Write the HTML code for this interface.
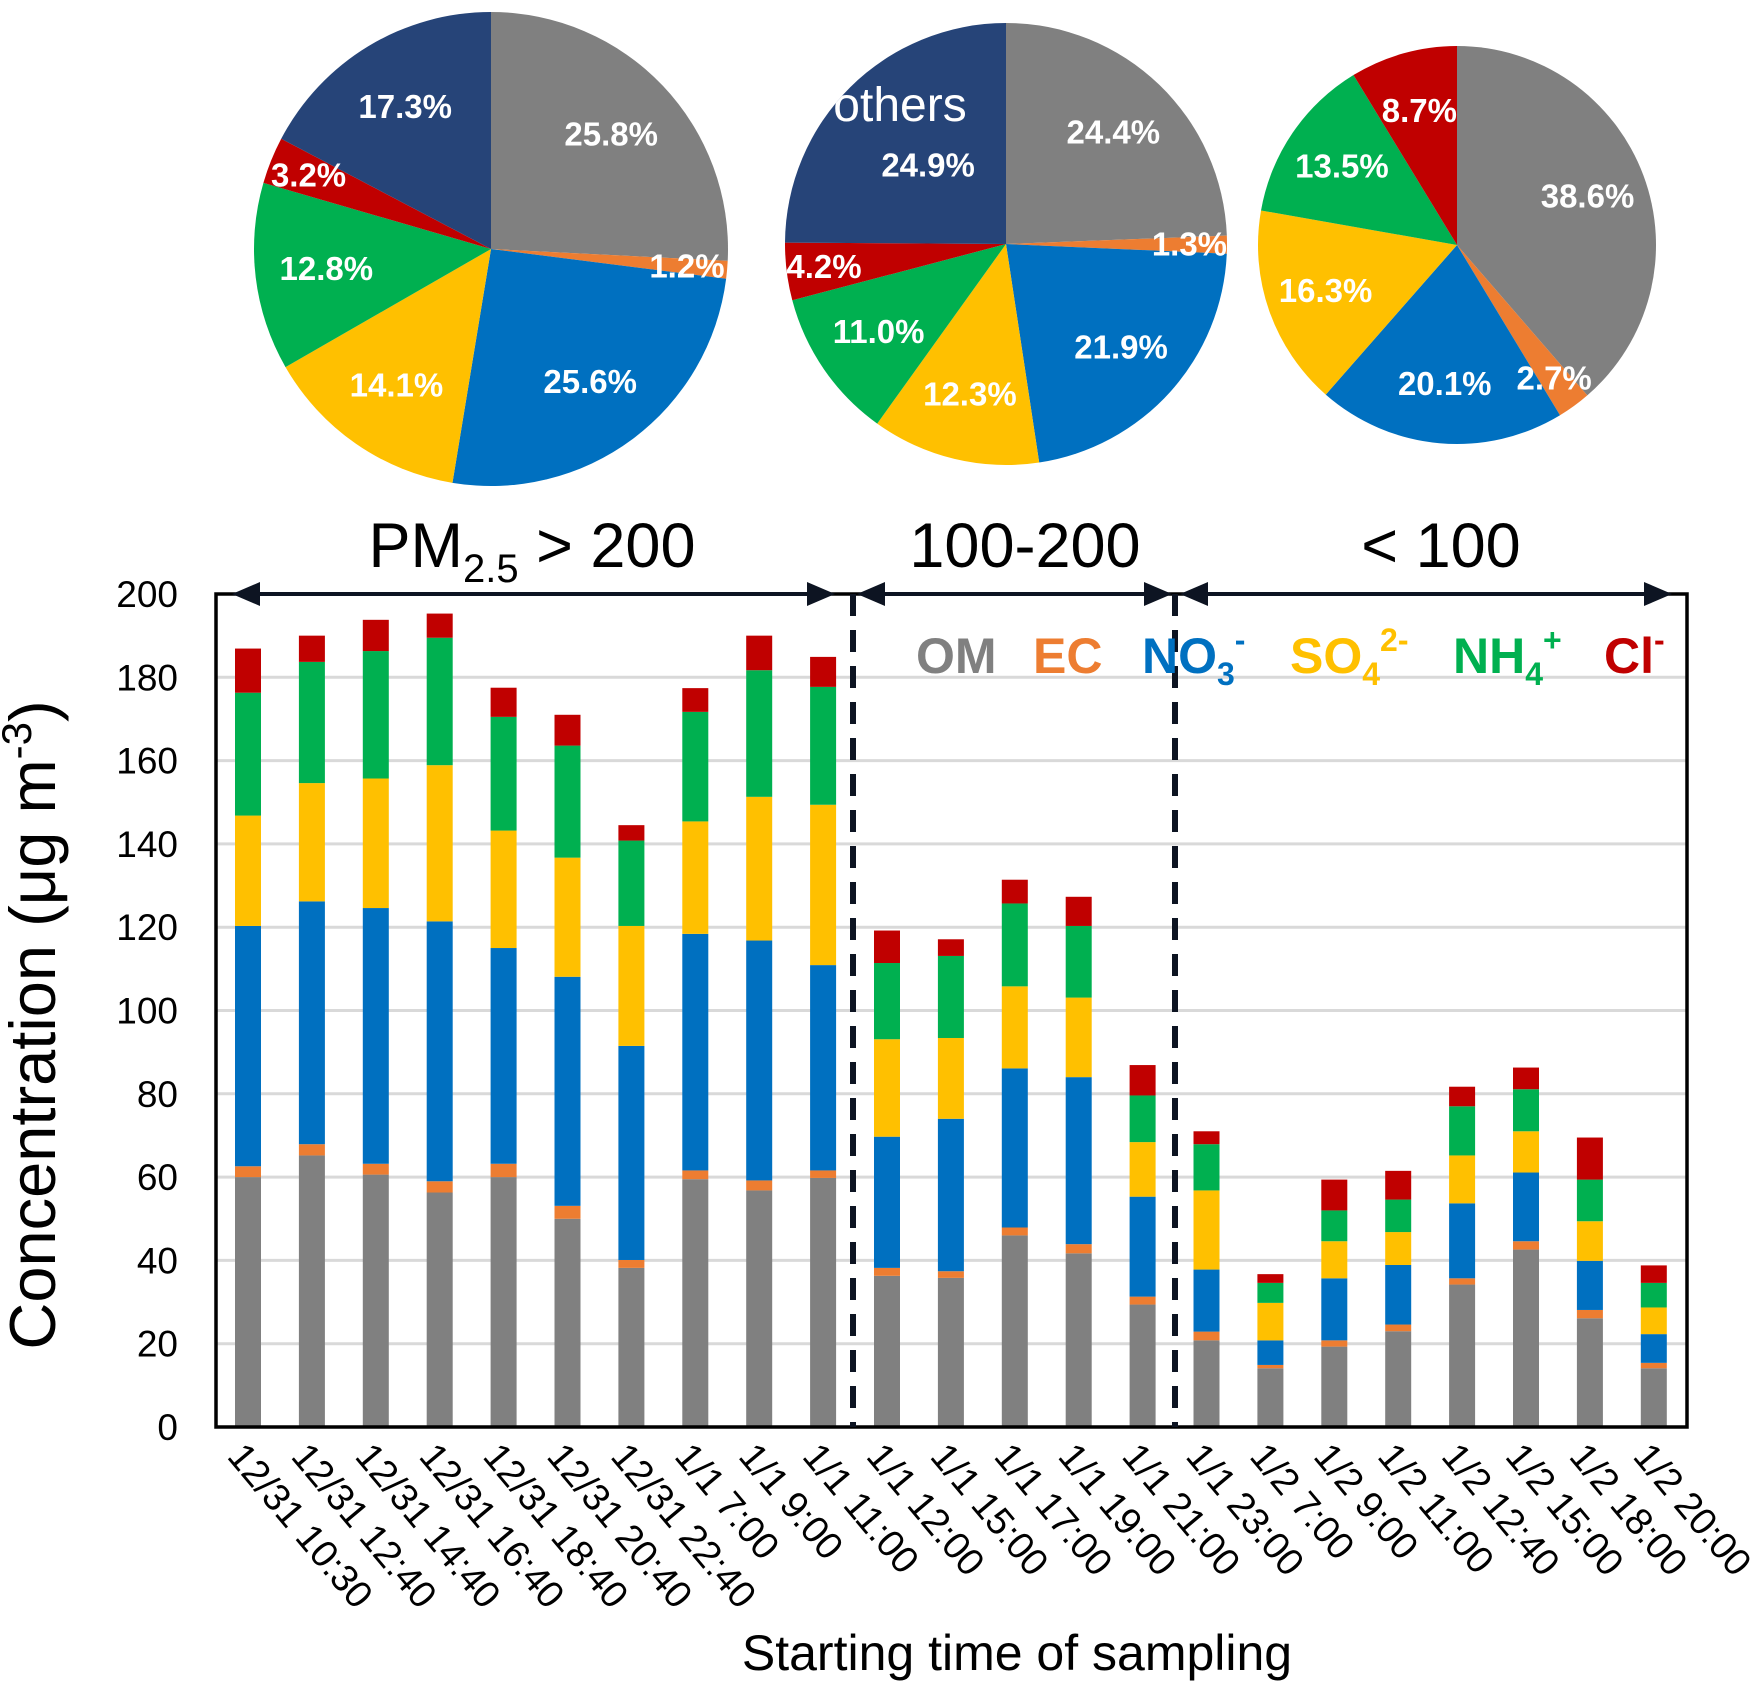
<!DOCTYPE html>
<html><head><meta charset="utf-8"><style>
html,body{margin:0;padding:0;background:#fff;}
svg{display:block;font-family:"Liberation Sans",Arial,sans-serif;}
</style></head><body>
<svg id="chart" width="1756" height="1684" viewBox="0 0 1756 1684">
<g id="pies"></g>
<g id="grid"></g>
<g id="bars"></g>
<g id="axes"></g>
<g id="legend" font-weight="bold" font-size="50">
<text x="916" y="673" fill="#808080">OM</text>
<text x="1033" y="673" fill="#ed7d31">EC</text>
<text x="1142" y="673" fill="#0070c0">NO<tspan font-size="32" dy="12">3</tspan><tspan font-size="32" dy="-34">-</tspan></text>
<text x="1290" y="673" fill="#ffc000">SO<tspan font-size="32" dy="12">4</tspan><tspan font-size="32" dy="-34">2-</tspan></text>
<text x="1453" y="673" fill="#00b050">NH<tspan font-size="32" dy="12">4</tspan><tspan font-size="32" dy="-34">+</tspan></text>
<text x="1604" y="673" fill="#c00000">Cl<tspan font-size="32" dy="-22">-</tspan></text>
</g>
<g font-size="63" fill="#000">
<text x="532" y="567" text-anchor="middle">PM<tspan font-size="40" dy="15">2.5</tspan><tspan dy="-15"> &gt; 200</tspan></text>
<text x="1025" y="567" text-anchor="middle">100-200</text>
<text x="1441" y="567" text-anchor="middle">&lt; 100</text>
</g>
<text transform="translate(55,1025) rotate(-90)" text-anchor="middle" font-size="65">Concentration (μg m<tspan font-size="42" dy="-24">-3</tspan><tspan dy="24">)</tspan></text>
<text x="1017" y="1670" text-anchor="middle" font-size="50">Starting time of sampling</text>
</svg>
<script>
const categories=["12/31 10:30","12/31 12:40","12/31 14:40","12/31 16:40","12/31 18:40","12/31 20:40","12/31 22:40","1/1 7:00","1/1 9:00","1/1 11:00","1/1 12:00","1/1 15:00","1/1 17:00","1/1 19:00","1/1 21:00","1/1 23:00","1/2 7:00","1/2 9:00","1/2 11:00","1/2 12:40","1/2 15:00","1/2 18:00","1/2 20:00"];
const omValues=[60,65.2,60.6,56.3,60,50,38.2,59.5,56.8,59.8,36.3,35.8,46,41.7,29.4,20.8,14.1,19.3,23,34.2,42.6,26.1,14.1];
const ecValues=[2.6,2.7,2.6,2.7,3.2,3.1,1.9,2.1,2.4,1.8,1.9,1.6,1.9,2.2,1.9,2.1,0.8,1.5,1.6,1.5,2,2,1.3];
const no3Values=[57.7,58.3,61.4,62.4,51.8,55,51.4,56.8,57.6,49.3,31.5,36.6,38.2,40.1,24,14.9,5.9,14.9,14.3,18,16.5,11.8,6.9];
const so4Values=[26.5,28.4,31.1,37.5,28.2,28.6,28.8,27,34.5,38.5,23.4,19.4,19.7,19.1,13.1,19,9,8.9,7.9,11.5,9.9,9.5,6.4];
const nh4Values=[29.5,29.1,30.6,30.6,27.3,26.9,20.5,26.3,30.4,28.3,18.3,19.7,19.9,17.2,11.2,11.1,4.8,7.4,7.8,11.8,10.1,10,5.9];
const clValues=[10.6,6.3,7.5,5.8,7,7.4,3.7,5.7,8.3,7.2,7.8,4,5.7,7,7.3,3.1,2.1,7.4,6.9,4.7,5.2,10.1,4.2];
const yTicks=[0,20,40,60,80,100,120,140,160,180,200];
const pie1Values=[25.8,1.2,25.6,14.1,12.8,3.2,17.3];
const pie2Values=[24.4,1.3,21.9,12.3,11.0,4.2,24.9];
const pie3Values=[38.6,2.7,20.1,16.3,13.5,8.7];

const NS="http://www.w3.org/2000/svg";
const colors=["#808080","#ed7d31","#0070c0","#ffc000","#00b050","#c00000","#264478"];
const seriesNames=["om","ec","no3","so4","nh4","cl","others"];
const X0=216,X1=1687,Y0=1427,Y1=594;
function yScale(v){return Y0-(v/200)*(Y0-Y1);}
function xScale(i){return 248+i*63.9;}
function mk(tag,attrs,parent){const e=document.createElementNS(NS,tag);for(const k in attrs)e.setAttribute(k,attrs[k]);parent.appendChild(e);return e;}

const grid=document.getElementById('grid');
yTicks.forEach(t=>{
  if(t>0){const l=mk('line',{x1:X0,x2:X1,y1:yScale(t),y2:yScale(t),stroke:'#d9d9d9','stroke-width':3},grid);
  
  }
});
const bars=document.getElementById('bars');
const series=[omValues,ecValues,no3Values,so4Values,nh4Values,clValues];
categories.forEach((c,i)=>{
  let base=0;
  series.forEach((s,k)=>{
    const top=base+s[i];
    const r=mk('rect',{x:xScale(i)-13,width:26,y:yScale(top),height:yScale(base)-yScale(top),fill:colors[k]},bars);
    
    
    base=top;
  });
});
const axes=document.getElementById('axes');
const box=mk('rect',{x:X0,y:Y1,width:X1-X0,height:Y0-Y1,fill:'none',stroke:'#000','stroke-width':3.5},axes);


yTicks.forEach(t=>{
  const tx=mk('text',{x:178,y:yScale(t)+13,'text-anchor':'end','font-size':37,fill:'#000'},axes);
  tx.textContent=t;
  
  
});
categories.forEach((c,i)=>{
  const tx=mk('text',{transform:`translate(${xScale(i)-22},${Y0+30}) rotate(50)`,'font-size':38,fill:'#000'},axes);
  tx.textContent=c;
  
  
});
[853,1175].forEach((x,j)=>{
  const l=mk('line',{x1:x,x2:x,y1:Y1,y2:Y0,stroke:'#0d1422','stroke-width':6,'stroke-dasharray':'22,14'},axes);
  
  
});
function arrow(xa,xb,j){
  const g=mk('g',{},axes);
  
  
  mk('line',{x1:xa+20,x2:xb-20,y1:Y1,y2:Y1,stroke:'#0d1422','stroke-width':4},g);
  mk('polygon',{points:`${xa},${Y1} ${xa+28},${Y1-12} ${xa+28},${Y1+12}`,fill:'#0d1422'},g);
  mk('polygon',{points:`${xb},${Y1} ${xb-28},${Y1-12} ${xb-28},${Y1+12}`,fill:'#0d1422'},g);
}
arrow(232,835,0);arrow(857,1172,1);arrow(1180,1672,2);
const pies=document.getElementById('pies');
function pie(vals,cx,cy,R,idx,others){
  const g=mk('g',{},pies);
  
  
  const tot=vals.reduce((a,b)=>a+b,0);
  let a0=-Math.PI/2;
  const labels=[];
  vals.forEach((v,k)=>{
    const a1=a0+v/tot*2*Math.PI;
    const large=(a1-a0)>Math.PI?1:0;
    const p=mk('path',{d:`M${cx},${cy} L${cx+R*Math.cos(a0)},${cy+R*Math.sin(a0)} A${R},${R} 0 ${large} 1 ${cx+R*Math.cos(a1)},${cy+R*Math.sin(a1)} Z`,fill:colors[k]},g);
    
    
    const am=(a0+a1)/2;
    let rr=R*(v<5?0.83:0.7);
    if(others&&k===6) rr=R*0.5;
    labels.push([cx+rr*Math.cos(am),cy+rr*Math.sin(am),v.toFixed(1)+'%']);
    a0=a1;
  });
  if(others){
    const cp=mk('clipPath',{id:'clip'+idx},g);
    mk('circle',{cx:cx,cy:cy,r:R},cp);
    const t=mk('text',{x:cx-106,y:cy-123,'text-anchor':'middle','font-size':48,fill:'#fff','clip-path':`url(#clip${idx})`},g);
    t.textContent='others';
    
    
  }
  labels.forEach((L,k)=>{
    const t=mk('text',{x:L[0],y:L[1]+11,'text-anchor':'middle','font-size':33,'font-weight':'bold',fill:'#fff'},g);
    t.textContent=L[2];
    
    
  });
}
pie(pie1Values,491,249,237,1,false);
pie(pie2Values,1006,244,221,2,true);
pie(pie3Values,1457,245,199,3,false);
</script>
</body></html>
